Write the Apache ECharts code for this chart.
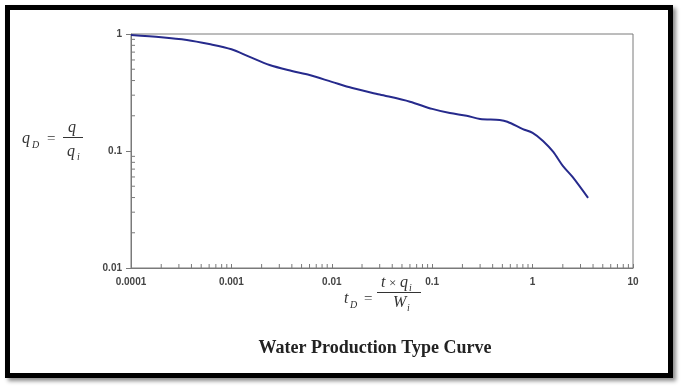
<!DOCTYPE html>
<html>
<head>
<meta charset="utf-8">
<script src="https://cdn.jsdelivr.net/npm/echarts@6/dist/echarts.min.js"></script>
<style>
  html, body { margin: 0; padding: 0; background: #fff; }
  #frame {
    position: absolute; left: 5px; top: 5px; width: 668px; height: 373px;
    box-sizing: border-box; border: 5px solid #000;
    box-shadow: 3px 3px 4px rgba(0, 0, 0, 0.45);
  }
  #main { position: absolute; left: 0; top: 0; width: 683px; height: 390px; }
</style>
</head>
<body>
<div id="frame"></div>
<div id="main"></div>
<script>
// dimensionless time t_D
const tD = [0.0001, 0.0002, 0.00036, 0.0006, 0.001, 0.0015, 0.0024, 0.004, 0.006, 0.01,
  0.016, 0.03, 0.06, 0.1, 0.15, 0.22, 0.3, 0.47, 0.56, 0.8, 1.0, 1.27, 1.6, 2.0, 2.5, 3.57];
// dimensionless rate q_D
const qD = [0.98, 0.94, 0.89, 0.82, 0.74, 0.64, 0.543, 0.483, 0.446, 0.39,
  0.345, 0.304, 0.264, 0.229, 0.211, 0.2, 0.188, 0.184, 0.178, 0.154, 0.143, 0.122, 0.0986, 0.0745, 0.06, 0.0397];
const xTickLabels = ['0.0001', '0.001', '0.01', '0.1', '1', '10'];
const yTickLabels = ['0.01', '0.1', '1'];

// minor ticks at 2..9 of each decade
const minorTicks = [];
for (let e = -4; e < 1; e++) {
  for (let m = 2; m <= 9; m++) minorTicks.push([m * Math.pow(10, e), 0.01, 0]);
}
for (let e = -2; e < 0; e++) {
  for (let m = 2; m <= 9; m++) minorTicks.push([0.0001, m * Math.pow(10, e), 1]);
}

const chart = echarts.init(document.getElementById('main'));
const axisColor = '#7a7a7a';
const serif = '"Liberation Serif", "DejaVu Serif", serif';
// text placed by its baseline (approx: top + 0.8 * size)
const mathText = (txt, x, base, size, italic) => ({
  type: 'text', x: x, y: base - Math.round(size * 0.82),
  style: {
    text: txt, font: (italic === false ? '' : 'italic ') + size + 'px ' + serif,
    fill: '#333', verticalAlign: 'top'
  }
});

chart.setOption({
  animation: false,
  grid: {
    left: 131, right: 50, top: 34, bottom: 122,
    show: true, borderColor: axisColor, borderWidth: 1
  },
  xAxis: {
    type: 'log', logBase: 10, min: 0.0001, max: 10,
    axisLine: { lineStyle: { color: axisColor, width: 1 } },
    axisTick: { inside: true, length: 4, lineStyle: { color: axisColor } },
    splitLine: { show: false },
    axisLabel: {
      margin: 9, color: '#444', fontSize: 10, fontWeight: 'bold',
      fontFamily: '"Liberation Sans", Arial, sans-serif',
      formatter: (v) => xTickLabels[Math.round(Math.log10(v)) + 4]
    }
  },
  yAxis: {
    type: 'log', logBase: 10, min: 0.01, max: 1,
    axisLine: { lineStyle: { color: axisColor, width: 1 } },
    axisTick: { inside: false, length: 5, lineStyle: { color: axisColor } },
    splitLine: { show: false },
    axisLabel: {
      margin: 9, color: '#444', fontSize: 10, fontWeight: 'bold',
      fontFamily: '"Liberation Sans", Arial, sans-serif',
      formatter: (v) => yTickLabels[Math.round(Math.log10(v)) + 2]
    }
  },
  series: [
    {
      type: 'custom',
      clip: false,
      silent: true,
      data: minorTicks,
      renderItem: (params, api) => {
        const p = api.coord([api.value(0), api.value(1)]);
        const shape = api.value(2)
          ? { x1: p[0], y1: p[1], x2: p[0] + 4, y2: p[1] }
          : { x1: p[0], y1: p[1], x2: p[0], y2: p[1] - 4 };
        return { type: 'line', shape: shape, style: { stroke: axisColor, lineWidth: 1 } };
      }
    },
    {
      type: 'line',
      smooth: 0.3,
      showSymbol: false,
      data: tD.map((t, i) => [t, qD[i]]),
      lineStyle: { color: '#262a8c', width: 2 }
    }
  ],
  graphic: [
    // y axis title: q_D = q / q_i
    mathText('q', 22, 144, 16),
    mathText('D', 32, 148, 10),
    mathText('=', 47, 144, 15, false),
    { type: 'line', shape: { x1: 63, y1: 137.5, x2: 83, y2: 137.5 }, style: { stroke: '#333', lineWidth: 1 } },
    mathText('q', 68, 133, 16),
    mathText('q', 67, 157, 16),
    mathText('i', 77, 160, 10),
    // x axis title: t_D = t x q_i / W_i
    mathText('t', 344, 304, 16),
    mathText('D', 350, 308, 10),
    mathText('=', 364, 304, 15, false),
    { type: 'line', shape: { x1: 377, y1: 292.5, x2: 421, y2: 292.5 }, style: { stroke: '#333', lineWidth: 1 } },
    mathText('t', 381, 288, 16),
    mathText('×', 389, 288, 13, false),
    mathText('q', 400, 288, 16),
    mathText('i', 409, 291, 10),
    mathText('W', 393, 308, 16),
    mathText('i', 407, 311, 10),
    // caption
    {
      type: 'text', x: 375, y: 348,
      style: {
        text: 'Water Production Type Curve', font: 'bold 18px ' + serif,
        fill: '#222', align: 'center', verticalAlign: 'middle'
      }
    }
  ]
});
</script>
</body>
</html>
